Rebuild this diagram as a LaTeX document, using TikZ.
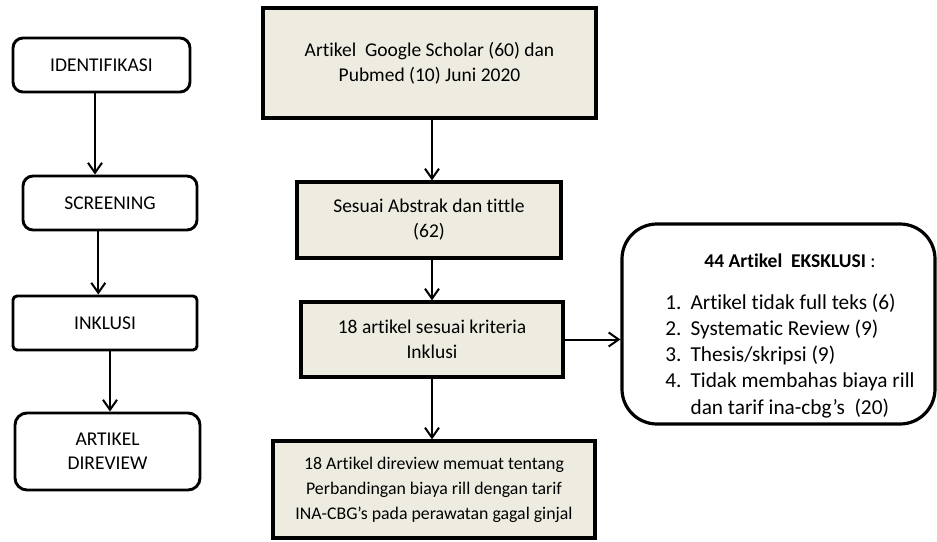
\documentclass[tikz,border=0pt]{standalone}
\usepackage{fontspec}
\setmainfont{Carlito}[Ligatures=NoCommon]
\usetikzlibrary{arrows.meta}
\definecolor{kotakisi}{HTML}{EEECE1}

\begin{document}
\begin{tikzpicture}[x=1pt, y=-1pt,
    % Stili per le tappe (colonna sinistra)
    tahap/.style={rectangle, rounded corners=10pt, draw=black, line width=2.9pt, fill=white, inner sep=0pt, align=center, font=\fontsize{19.5}{24}\selectfont},
    % Stili per i processi (colonna centrale)
    proses/.style={rectangle, draw=black, line width=3.2pt, fill=kotakisi, inner sep=0pt, align=center, font=\fontsize{19.5}{25}\selectfont},
    % Box esclusione
    eksbox/.style={rectangle, rounded corners=35pt, draw=black, line width=3.2pt, fill=white, inner sep=0pt},
    % Stili per le connessioni
    panah/.style={-{Straight Barb[length=10pt,width=14pt]}, line width=2pt}
]
\useasboundingbox (0,0) rectangle (937,541);

% === TAHAPAN ===
\node[tahap, minimum width=177pt, minimum height=54pt] (ident) at (101.5,65) {IDENTIFIKASI};
\node[tahap, minimum width=174pt, minimum height=54pt] (screen) at (110,203) {SCREENING};
\node[tahap, rounded corners=4pt, minimum width=184pt, minimum height=54pt] (inkl) at (105,323) {INKLUSI};
\node[tahap, rounded corners=12pt, minimum width=185pt, minimum height=77pt] (direv) at (107.5,451.5) {ARTIKEL\\DIREVIEW};

% === PROSES ===
\node[proses, minimum width=333pt, minimum height=110pt] (src) at (429.5,63) {Artikel\ \ Google Scholar (60) dan\\Pubmed (10) Juni 2020};
\node[proses, minimum width=264pt, minimum height=76pt] (abstrak) at (429,220) {Sesuai Abstrak dan tittle\\(62)};
\node[proses, minimum width=262pt, minimum height=75pt] (kriteria) at (432,339.5) {18 artikel sesuai kriteria\\Inklusi};
\node[proses, minimum width=322pt, minimum height=97pt, font=\fontsize{17.8}{25}\selectfont] (hasil) at (434,489.5) {18 Artikel direview memuat tentang\\Perbandingan biaya rill dengan tarif\\INA-CBG’s pada perawatan gagal ginjal};

% === EKSKLUSI ===
\node[eksbox, minimum width=313pt, minimum height=200pt] (eksklusi) at (778.5,324) {};
\node[align=center, inner sep=0pt] (eksteks) at ([xshift=11.5pt,yshift=-14pt]eksklusi.center) {%
    \fontsize{19.5}{24}\selectfont\textbf{44 Artikel\ \ EKSKLUSI} :\\[22pt]
    \fontsize{21.3}{26.3}\selectfont
    \begin{tabular}{@{}l@{\hspace{9pt}}l@{}}
    1. & Artikel tidak full teks (6)\\
    2. & Systematic Review (9)\\
    3. & Thesis/skripsi (9)\\
    4. & Tidak membahas biaya rill\\
       & dan tarif ina-cbg’s\ \ (20)
    \end{tabular}};

% === CONNESSIONI ===
\draw[panah] ([xshift=-6.5pt]ident.south) -- ([xshift=-6.5pt]ident.south |- screen.north);
\draw[panah] ([xshift=-11.7pt]screen.south) -- ([xshift=-11.7pt]screen.south |- inkl.north);
\draw[panah] ([xshift=5pt]inkl.south) -- ([xshift=5pt]inkl.south |- direv.north);

\draw[panah] (src.south -| kriteria.center) -- (abstrak.north -| kriteria.center);
\draw[panah] (abstrak.south -| kriteria.center) -- (kriteria.north);
\draw[panah] (kriteria.south) -- (hasil.north -| kriteria.center);
\draw[panah] (kriteria.east) -- (kriteria.east -| eksklusi.west);

\end{tikzpicture}
\end{document}
